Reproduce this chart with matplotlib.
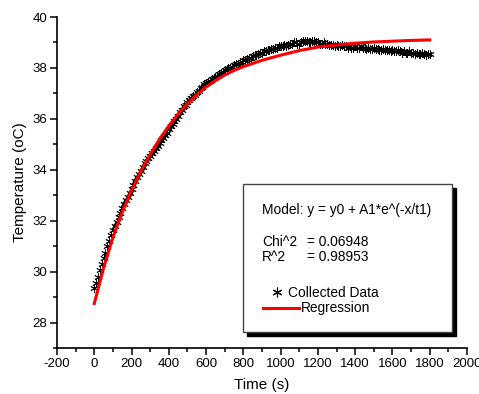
import numpy as np
import matplotlib
matplotlib.use("Agg")
import matplotlib.pyplot as plt
from matplotlib.patches import Rectangle
from matplotlib.lines import Line2D
from matplotlib.ticker import MultipleLocator

plt.rcParams['font.family'] = ['Liberation Sans', 'DejaVu Sans']
plt.rcParams['axes.unicode_minus'] = False

# collected data, one reading every 10 s
time_s = list(range(0, 1801, 10))
temp_c = [29.35, 29.55, 29.8, 30.05, 30.3, 30.55, 30.75, 31.0, 31.2, 31.45,
          31.65, 31.8, 31.95, 32.15, 32.3, 32.5, 32.65, 32.8, 32.95, 33.1,
          33.25, 33.4, 33.55, 33.7, 33.85, 33.95, 34.1, 34.25, 34.35, 34.45,
          34.55, 34.65, 34.75, 34.85, 34.95, 35.05, 35.15, 35.25, 35.35, 35.45,
          35.6, 35.7, 35.8, 35.9, 36.0, 36.1, 36.25, 36.35, 36.5, 36.55,
          36.65, 36.75, 36.8, 36.9, 36.95, 37.05, 37.1, 37.2, 37.25, 37.35,
          37.4, 37.45, 37.5, 37.55, 37.6, 37.65, 37.7, 37.75, 37.8, 37.85,
          37.9, 37.95, 38.0, 38.0, 38.05, 38.1, 38.15, 38.15, 38.2, 38.25,
          38.3, 38.3, 38.35, 38.4, 38.4, 38.45, 38.5, 38.5, 38.55, 38.6,
          38.6, 38.65, 38.65, 38.7, 38.7, 38.75, 38.75, 38.8, 38.8, 38.85,
          38.85, 38.85, 38.9, 38.85, 38.9, 38.95, 38.95, 39.0, 39.0, 38.95,
          38.95, 39.0, 39.05, 39.05, 39.05, 39.0, 39.0, 39.05, 39.05, 39.0,
          39.0, 38.95, 38.95, 39.0, 38.95, 38.95, 38.9, 38.9, 38.9, 38.85,
          38.9, 38.85, 38.85, 38.9, 38.85, 38.85, 38.8, 38.85, 38.8, 38.8,
          38.85, 38.8, 38.8, 38.85, 38.8, 38.8, 38.75, 38.8, 38.75, 38.75,
          38.8, 38.75, 38.75, 38.7, 38.7, 38.75, 38.7, 38.7, 38.7, 38.65,
          38.7, 38.65, 38.65, 38.7, 38.65, 38.6, 38.65, 38.6, 38.6, 38.65,
          38.6, 38.6, 38.55, 38.6, 38.55, 38.55, 38.6, 38.55, 38.5, 38.55,
          38.55]

# regression curve
fit_t = [0, 50, 100, 150, 200, 250, 300, 350, 400, 450, 500, 550, 600, 650,
         700, 750, 800, 900, 1000, 1100, 1200, 1300, 1400, 1500, 1600, 1700, 1800]
fit_y = [28.75, 30.15, 31.35, 32.35, 33.2, 33.95, 34.6, 35.2, 35.72, 36.2, 36.6,
         36.95, 37.25, 37.5, 37.72, 37.9, 38.05, 38.3, 38.5, 38.68, 38.82, 38.9,
         38.97, 39.02, 39.05, 39.08, 39.1]

W, H = 479, 394
fig = plt.figure(figsize=(W / 100, H / 100), dpi=100)
ax = fig.add_axes([57 / W, 1 - 348 / H, 410 / W, 331 / H])

star = (6, 2, 0)
ax.plot(time_s, temp_c, linestyle='none', marker=star, markersize=6,
        markeredgewidth=0.6, color='black', clip_on=False)
ax.plot(fit_t, fit_y, color='red', linewidth=2.2, clip_on=False)

ax.set_xlim(-200, 2000)
ax.set_ylim(27, 40)
ax.xaxis.set_major_locator(MultipleLocator(200))
ax.xaxis.set_minor_locator(MultipleLocator(100))
ax.yaxis.set_minor_locator(MultipleLocator(1))
ax.set_yticks([28, 30, 32, 34, 36, 38, 40])
for s in ['top', 'right']:
    ax.spines[s].set_visible(False)
for s in ['left', 'bottom']:
    ax.spines[s].set_linewidth(1.2)
ax.tick_params(which='major', direction='out', length=5, width=1.1, labelsize=9.5, pad=2)
ax.tick_params(which='minor', direction='out', length=3, width=1.1)
ax.set_xlabel("Time (s)", fontsize=11, labelpad=6)
ax.set_ylabel("Temperature (oC)", fontsize=11, labelpad=4)


def fx(px):
    return px / W


def fy(py):
    return 1 - py / H


# legend box with shadow
x0, y0, x1, y1 = 243, 184, 452, 332
fig.add_artist(Rectangle((fx(x0 + 4), fy(y1 + 4)), fx(x1 - x0), (y1 - y0) / H,
                         transform=fig.transFigure, facecolor='black', edgecolor='black'))
fig.add_artist(Rectangle((fx(x0), fy(y1)), fx(x1 - x0), (y1 - y0) / H,
                         transform=fig.transFigure, facecolor='white', edgecolor='#444444',
                         linewidth=1))

fs = 9.9
fig.text(fx(262), fy(210), "Model: y = y0 + A1*e^(-x/t1)", fontsize=fs, va='center')
fig.text(fx(262), fy(242), "Chi^2", fontsize=fs, va='center')
fig.text(fx(307), fy(242), "= 0.06948", fontsize=fs, va='center')
fig.text(fx(262), fy(257), "R^2", fontsize=fs, va='center')
fig.text(fx(307), fy(257), "= 0.98953", fontsize=fs, va='center')

fig.add_artist(Line2D([fx(277)], [fy(292)], transform=fig.transFigure, linestyle='none',
                      marker=star, markersize=7, markeredgewidth=0.8, color='black'))
fig.text(fx(288), fy(293), "Collected Data", fontsize=fs, va='center')
fig.add_artist(Line2D([fx(263), fx(299)], [fy(308), fy(308)], transform=fig.transFigure,
                      color='red', linewidth=2.2))
fig.text(fx(301), fy(308), "Regression", fontsize=fs, va='center')

fig.savefig("out.png", dpi=100)
